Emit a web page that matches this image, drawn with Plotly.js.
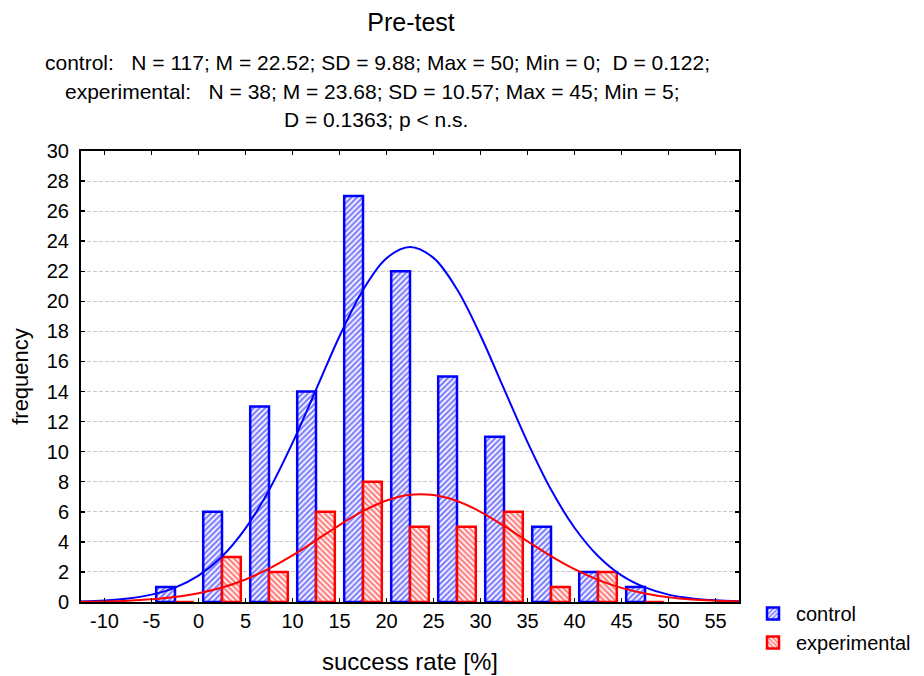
<!DOCTYPE html>
<html>
<head>
<meta charset="utf-8">
<script src="https://cdn.plot.ly/plotly-3.0.1.min.js"></script>
<style>html,body{margin:0;padding:0;background:#fff;}#chart{width:924px;height:676px;}</style>
</head>
<body>
<div id="chart"></div>
<script>
// Bin centres of the histogram (success rate, %)
const binCenters = [-2.5, 2.5, 7.5, 12.5, 17.5, 22.5, 27.5, 32.5, 37.5, 42.5, 47.5];
const controlCounts = [1, 6, 13, 14, 27, 22, 15, 11, 5, 2, 1];
const experimentalCounts = [0, 3, 2, 6, 8, 5, 5, 6, 1, 2, 0];

// Fitted normal curves
const curveX = [-12.5, -10, -7.5, -5, -2.5, 0, 2.5, 5, 7.5, 10, 12.5, 15, 17.5, 20, 22.5, 25, 27.5, 30, 32.5, 35, 37.5, 40, 42.5, 45, 47.5, 50, 52.5, 55, 57.5];
const controlCurve = [0.04, 0.1, 0.23, 0.49, 0.96, 1.76, 3.03, 4.9, 7.44, 10.58, 14.12, 17.68, 20.76, 22.87, 23.62, 22.89, 20.8, 17.73, 14.18, 10.64, 7.48, 4.94, 3.06, 1.77, 0.97, 0.49, 0.24, 0.11, 0.05];
const experimentalCurve = [0.02, 0.04, 0.09, 0.18, 0.33, 0.58, 0.96, 1.5, 2.22, 3.1, 4.1, 5.12, 6.04, 6.75, 7.13, 7.11, 6.72, 6.0, 5.06, 4.04, 3.05, 2.18, 1.47, 0.94, 0.57, 0.32, 0.17, 0.09, 0.04];

const seriesNames = ['control', 'experimental'];
const xTickVals = [-10, -5, 0, 5, 10, 15, 20, 25, 30, 35, 40, 45, 50, 55];
const yTickVals = [0, 2, 4, 6, 8, 10, 12, 14, 16, 18, 20, 22, 24, 26, 28, 30];

const titleText = 'Pre-test';
const statLines = [
  'control:   N = 117; M = 22.52; SD = 9.88; Max = 50; Min = 0;  D = 0.122;',
  'experimental:   N = 38; M = 23.68; SD = 10.57; Max = 45; Min = 5;',
  'D = 0.1363; p &lt; n.s.'
];

const BLUE = '#0000ff', RED = '#ff0000';
const FONT = 'Liberation Sans, Arial, sans-serif';

const traces = [
  {
    type: 'bar', name: seriesNames[0], x: binCenters, y: controlCounts,
    marker: {color: '#ffffff', line: {color: BLUE, width: 2.5},
             pattern: {shape: '/', fgcolor: BLUE, bgcolor: '#ffffff', size: 4, solidity: 0.55, fillmode: 'overlay'}},
    hoverinfo: 'x+y'
  },
  {
    type: 'bar', name: seriesNames[1], x: binCenters, y: experimentalCounts,
    marker: {color: '#ffffff', line: {color: RED, width: 2.5},
             pattern: {shape: '\\', fgcolor: RED, bgcolor: '#ffffff', size: 4, solidity: 0.55, fillmode: 'overlay'}},
    hoverinfo: 'x+y'
  },
  {
    type: 'scatter', mode: 'lines', x: curveX, y: controlCurve, showlegend: false,
    line: {color: BLUE, width: 2, shape: 'spline'}, hoverinfo: 'skip'
  },
  {
    type: 'scatter', mode: 'lines', x: curveX, y: experimentalCurve, showlegend: false,
    line: {color: RED, width: 2, shape: 'spline'}, hoverinfo: 'skip'
  }
];

const L = 81, R = 185, T = 151, B = 74;
const plotW = 924 - L - R, plotH = 676 - T - B;
function px2x(p) { return (p - L) / plotW; }
function py2y(p) { return (676 - B - p) / plotH; }

const statY = [62, 91, 120];
const statX = [377, 372, 376];
const annotations = statLines.map((t, i) => ({
  text: t, xref: 'paper', yref: 'paper', x: px2x(statX[i]), y: py2y(statY[i]),
  xanchor: 'center', yanchor: 'middle', showarrow: false,
  font: {family: FONT, size: 21, color: '#000'}
}));

const layout = {
  width: 924, height: 676,
  margin: {l: L, r: R, t: T, b: B, autoexpand: false},
  paper_bgcolor: '#ffffff', plot_bgcolor: '#ffffff',
  font: {family: FONT, color: '#000'},
  title: {text: titleText, x: 411 / 924, xanchor: 'center', y: 1 - 22 / 676, yanchor: 'middle',
          font: {family: FONT, size: 25, color: '#000'}},
  barmode: 'group', bargap: 0.2, bargroupgap: 0,
  showlegend: true,
  legend: {x: px2x(750), xanchor: 'left', y: py2y(594), yanchor: 'top',
           font: {family: FONT, size: 20, color: '#000'}, bgcolor: 'rgba(0,0,0,0)',
           tracegroupgap: 0, itemwidth: 36},
  xaxis: {
    range: [-12.5, 57.5], tickvals: xTickVals, ticktext: xTickVals.map(String),
    showline: true, linecolor: '#000', linewidth: 2, mirror: 'ticks',
    ticks: 'inside', ticklen: 4, tickwidth: 1.5, tickcolor: '#000',
    showgrid: false, zeroline: false,
    tickfont: {family: FONT, size: 20, color: '#000'},
    title: {text: 'success rate [%]', font: {family: FONT, size: 24, color: '#000'}, standoff: 22}
  },
  yaxis: {
    range: [0, 30], tickvals: yTickVals, ticktext: yTickVals.map(String),
    showline: true, linecolor: '#000', linewidth: 2, mirror: 'ticks',
    ticks: 'inside', ticklen: 4, tickwidth: 1.5, tickcolor: '#000',
    showgrid: true, gridcolor: '#c8c8c8', gridwidth: 1, griddash: '4px,2px',
    zeroline: false, ticklabelstandoff: 6,
    tickfont: {family: FONT, size: 20, color: '#000'},
    title: {text: 'frequency', font: {family: FONT, size: 22, color: '#000'}, standoff: 12}
  },
  annotations: annotations
};

Plotly.newPlot('chart', traces, layout, {displayModeBar: false, staticPlot: true});
</script>
</body>
</html>
